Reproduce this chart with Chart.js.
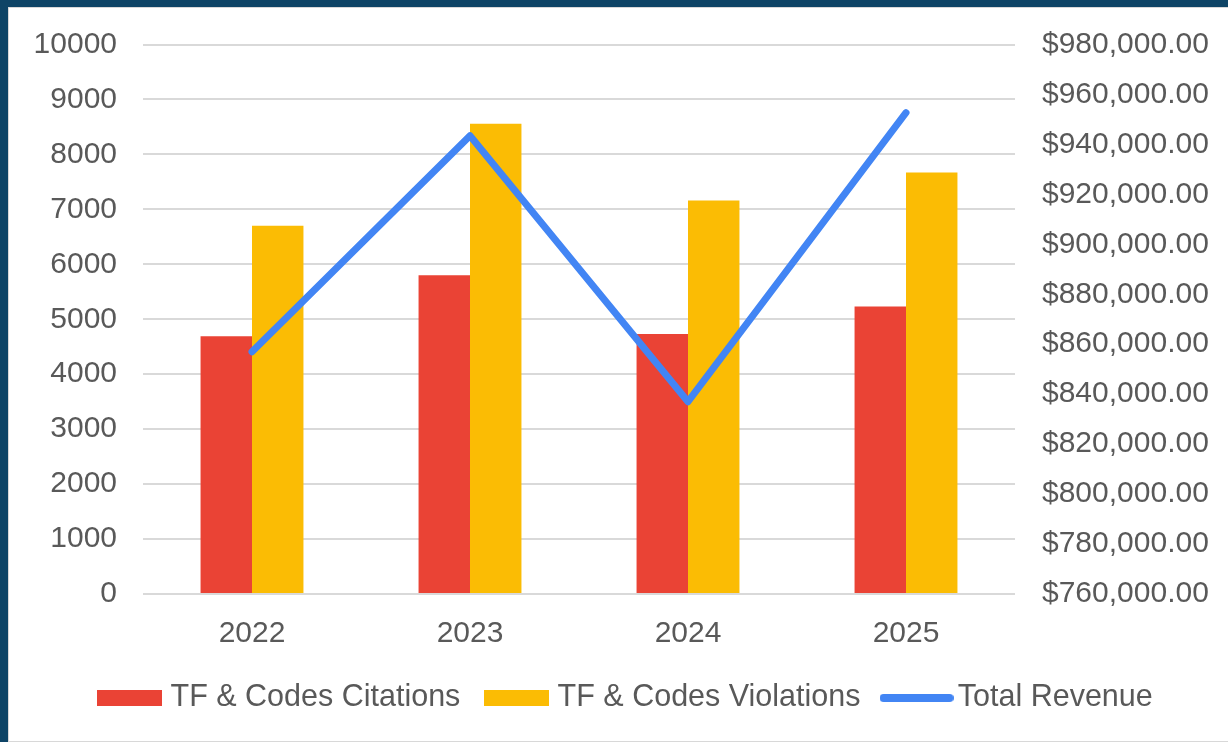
<!DOCTYPE html>
<html>
<head>
<meta charset="utf-8">
<script src="https://cdn.jsdelivr.net/npm/chart.js@4/dist/chart.umd.min.js"></script>
<style>
  html, body { margin: 0; padding: 0; }
  body { width: 1228px; height: 742px; background: #0E4466; overflow: hidden; position: relative; }
  #frame { position: absolute; left: 8px; top: 7px; width: 1240px; height: 733px; background: #ffffff; border: 1px solid #d8d8d8; }
  #wrap { position: absolute; left: 0; top: 0; width: 1219px; height: 733px; }
</style>
</head>
<body>
<div id="frame"><div id="wrap"><canvas id="c"></canvas></div></div>
<script>
// ---- data ----
const categories = ['2022', '2023', '2024', '2025'];
const citations = [4690, 5800, 4730, 5230];
const violations = [6700, 8560, 7160, 7670];
const revenue = [857000, 943500, 837000, 952700];
const seriesNames = ['TF & Codes Citations', 'TF & Codes Violations', 'Total Revenue'];
const leftTicks = { min: 0, max: 10000, step: 1000 };
const rightTicks = { min: 760000, max: 980000, step: 20000 };

// ---- styles ----
const RED = '#EA4335', YELLOW = '#FBBC04', BLUE = '#4285F4';
const TEXT = '#595959', GRID = '#d9d9d9';
const FONT = '"Liberation Sans", Arial, sans-serif';

function rectIcon(color, w, h) {
  const c = document.createElement('canvas');
  c.width = w; c.height = h;
  const g = c.getContext('2d');
  g.fillStyle = color; g.fillRect(0, 0, w, h);
  return c;
}
function lineIcon(color, w, lw) {
  const c = document.createElement('canvas');
  c.width = w; c.height = lw + 2;
  const g = c.getContext('2d');
  g.strokeStyle = color; g.lineWidth = lw; g.lineCap = 'round';
  g.beginPath(); g.moveTo(lw / 2, c.height / 2); g.lineTo(w - lw / 2, c.height / 2); g.stroke();
  return c;
}
const icons = [rectIcon(RED, 65, 16), rectIcon(YELLOW, 65, 16), lineIcon(BLUE, 74, 8)];

const money = v => '$' + Number(v).toLocaleString('en-US', { minimumFractionDigits: 2, maximumFractionDigits: 2 });

const legendShift = {
  id: 'legendShift',
  afterLayout(chart) {
    const l = chart.legend;
    if (l) { l.left += 9.5; l.right += 9.5; }
  }
};

function fixY(width) {
  return (s) => { s.width = width; s.paddingTop = 0; s.paddingBottom = 0; };
}

new Chart(document.getElementById('c'), {
  data: {
    labels: categories,
    datasets: [
      { type: 'bar', label: seriesNames[0], data: citations, backgroundColor: RED, yAxisID: 'y', order: 1,
        categoryPercentage: 0.472, barPercentage: 1.0, borderWidth: 0 },
      { type: 'bar', label: seriesNames[1], data: violations, backgroundColor: YELLOW, yAxisID: 'y', order: 1,
        categoryPercentage: 0.472, barPercentage: 1.0, borderWidth: 0 },
      { type: 'line', label: seriesNames[2], data: revenue, borderColor: BLUE, backgroundColor: BLUE, yAxisID: 'y2', order: 0,
        borderWidth: 7, pointRadius: 0, pointHoverRadius: 0, tension: 0, borderCapStyle: 'round', borderJoinStyle: 'round', fill: false }
    ]
  },
  plugins: [legendShift],
  options: {
    responsive: true,
    maintainAspectRatio: false,
    animation: false,
    events: [],
    layout: { padding: { top: 36.5, bottom: 17.75, left: 0, right: 0 } },
    plugins: {
      tooltip: { enabled: false },
      legend: {
        position: 'bottom',
        align: 'center',
        labels: {
          usePointStyle: true,
          pointStyleWidth: 52,
          boxHeight: 16,
          padding: 30,
          color: TEXT,
          font: { family: FONT, size: 30.5 },
          generateLabels: (chart) => chart.data.datasets.map((ds, i) => ({
            text: ds.label,
            pointStyle: icons[i],
            fillStyle: ds.backgroundColor,
            strokeStyle: ds.borderColor || ds.backgroundColor,
            lineWidth: 0,
            fontColor: TEXT,
            hidden: false,
            datasetIndex: i
          }))
        }
      }
    },
    scales: {
      x: {
        grid: { display: false, drawTicks: false },
        border: { display: false },
        ticks: { color: TEXT, font: { family: FONT, size: 30 }, padding: 22, maxRotation: 0 },
        afterFit: (s) => { s.height = 58.75; }
      },
      y: {
        position: 'left',
        min: leftTicks.min, max: leftTicks.max,
        grid: { color: GRID, lineWidth: 2, drawTicks: false },
        border: { display: false },
        ticks: { stepSize: leftTicks.step, color: TEXT, font: { family: FONT, size: 30 }, padding: 26, callback: v => String(v) },
        afterFit: fixY(134)
      },
      y2: {
        position: 'right',
        min: rightTicks.min, max: rightTicks.max,
        grid: { display: false, drawTicks: false },
        border: { display: false },
        ticks: { stepSize: rightTicks.step, color: TEXT, font: { family: FONT, size: 30 }, padding: 27, callback: money },
        afterFit: fixY(213)
      }
    }
  }
});
</script>
</body>
</html>
